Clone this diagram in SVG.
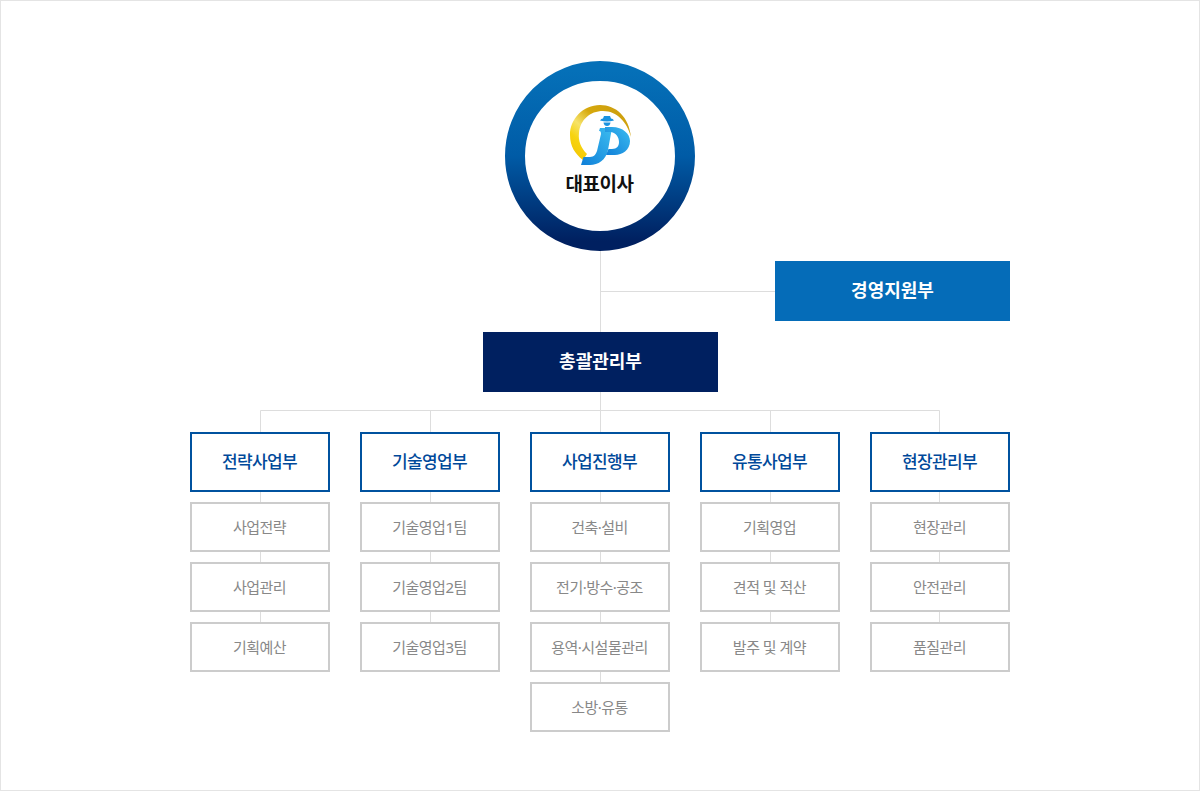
<svg xmlns="http://www.w3.org/2000/svg" width="1200" height="791" viewBox="0 0 1200 791">
<style>
text{font-family:"Noto Sans","Noto Sans CJK KR",sans-serif;text-anchor:middle}
.line{stroke:#ddd;stroke-width:1;fill:none}
.head rect{fill:#fff;stroke:#00529f;stroke-width:2}
.head text{font-size:17px;font-weight:500;fill:#00499a;letter-spacing:-.6px}
.sub rect{fill:#fff;stroke:#ccc;stroke-width:2}
.sub text{font-size:15px;font-weight:400;fill:#888;letter-spacing:-.5px}
.main text{font-size:18px;font-weight:700;fill:#fff;letter-spacing:0}
</style>
<defs>
<linearGradient id="ring" x1="0" y1="0" x2="0" y2="1"><stop offset="0" stop-color="#0570b8"/><stop offset=".5" stop-color="#005ba6"/><stop offset="1" stop-color="#002060"/></linearGradient>
<linearGradient id="gold" x1="1" y1="0" x2="0" y2="1"><stop offset="0" stop-color="#c89a10"/><stop offset=".4" stop-color="#d6a80c"/><stop offset=".6" stop-color="#f6e36a"/><stop offset=".75" stop-color="#f7d410"/><stop offset="1" stop-color="#f2c200"/></linearGradient>
<linearGradient id="blue" x1="0" y1="1" x2="1" y2="0"><stop offset="0" stop-color="#0f7fd8"/><stop offset="1" stop-color="#3cbcf0"/></linearGradient>
</defs>
<rect x=".5" y=".5" width="1199" height="790" fill="#fff" stroke="#e4e4e4"/>
<g id="connectors" class="line">
<path d="M600.500 250V332M600.500 291.500H775M600.500 392V432M260.500 410.500H939.500M260.500 410.500V432M430.500 410.500V432M770.500 410.500V432M939.500 410.500V432"/>
<path d="M260.500 491V622M430.500 491V622M600.500 491V682M770.500 491V622M939.500 491V622"/>
</g>
<g id="ceo">
<circle cx="600" cy="156" r="85" fill="#fff" stroke="url(#ring)" stroke-width="20"/>
<g id="logo">
<path d="M631 137C629 117 616 105 600 105C583 105 570 119 570 135C570 146 575 154 583 160L587 154C581 148 578 141 579 133C580 120 590 111 603 111C617 111 627 122 631 137Z" fill="url(#gold)"/>
<path d="M600 120.500Q601 118.500 603 118.500L604 116H610L611 118.500Q613 118.500 614 120.500Q607 122.500 600 120.500Z" fill="#1a93e0"/>
<path d="M603.500 122.500H610.500Q610 126 607 126Q604 126 603.500 122.500Z" fill="#1a93e0"/>
<path d="M600 128H612L608 150C606 160 598 165 590 165H581L583.500 157H590C594 157 596 154 597 151L601 134Q601 130.500 599 131Z" fill="url(#blue)"/>
<path d="M605 127H612C623 127 630 134 630 141C630 150 622 155 615 155H606L608.500 149H612C617 149 619 146 619 142C619 137 616 133 611 132H605Z" fill="url(#blue)"/>
</g>
<text x="599.500" y="191" font-size="19" font-weight="700" fill="#111" letter-spacing="-.5">대표이사</text>
</g>
<g id="support" class="main"><rect x="775" y="261" width="235" height="60" fill="#056cb8"/><text x="892.500" y="297">경영지원부</text></g>
<g id="general" class="main"><rect x="483" y="332" width="235" height="60" fill="#002060"/><text x="600.500" y="368">총괄관리부</text></g>
<g id="d1" class="head"><rect x="191" y="433" width="138" height="58"/><text x="259.500" y="467.500">전략사업부</text></g>
<g id="d2" class="head"><rect x="361" y="433" width="138" height="58"/><text x="429.500" y="467.500">기술영업부</text></g>
<g id="d3" class="head"><rect x="531" y="433" width="138" height="58"/><text x="599.500" y="467.500">사업진행부</text></g>
<g id="d4" class="head"><rect x="701" y="433" width="138" height="58"/><text x="769.500" y="467.500">유통사업부</text></g>
<g id="d5" class="head"><rect x="871" y="433" width="138" height="58"/><text x="939.500" y="467.500">현장관리부</text></g>
<g id="d1a" class="sub"><rect x="191" y="503" width="138" height="48"/><text x="259.500" y="533">사업전략</text></g>
<g id="d1b" class="sub"><rect x="191" y="563" width="138" height="48"/><text x="259.500" y="593">사업관리</text></g>
<g id="d1c" class="sub"><rect x="191" y="623" width="138" height="48"/><text x="259.500" y="653">기획예산</text></g>
<g id="d2a" class="sub"><rect x="361" y="503" width="138" height="48"/><text x="429.500" y="533">기술영업1팀</text></g>
<g id="d2b" class="sub"><rect x="361" y="563" width="138" height="48"/><text x="429.500" y="593">기술영업2팀</text></g>
<g id="d2c" class="sub"><rect x="361" y="623" width="138" height="48"/><text x="429.500" y="653">기술영업3팀</text></g>
<g id="d3a" class="sub"><rect x="531" y="503" width="138" height="48"/><text x="599.500" y="533">건축·설비</text></g>
<g id="d3b" class="sub"><rect x="531" y="563" width="138" height="48"/><text x="599.500" y="593">전기·방수·공조</text></g>
<g id="d3c" class="sub"><rect x="531" y="623" width="138" height="48"/><text x="599.500" y="653">용역·시설물관리</text></g>
<g id="d3d" class="sub"><rect x="531" y="683" width="138" height="48"/><text x="599.500" y="713">소방·유통</text></g>
<g id="d4a" class="sub"><rect x="701" y="503" width="138" height="48"/><text x="769.500" y="533">기획영업</text></g>
<g id="d4b" class="sub"><rect x="701" y="563" width="138" height="48"/><text x="769.500" y="593">견적 및 적산</text></g>
<g id="d4c" class="sub"><rect x="701" y="623" width="138" height="48"/><text x="769.500" y="653">발주 및 계약</text></g>
<g id="d5a" class="sub"><rect x="871" y="503" width="138" height="48"/><text x="939.500" y="533">현장관리</text></g>
<g id="d5b" class="sub"><rect x="871" y="563" width="138" height="48"/><text x="939.500" y="593">안전관리</text></g>
<g id="d5c" class="sub"><rect x="871" y="623" width="138" height="48"/><text x="939.500" y="653">품질관리</text></g>
</svg>
